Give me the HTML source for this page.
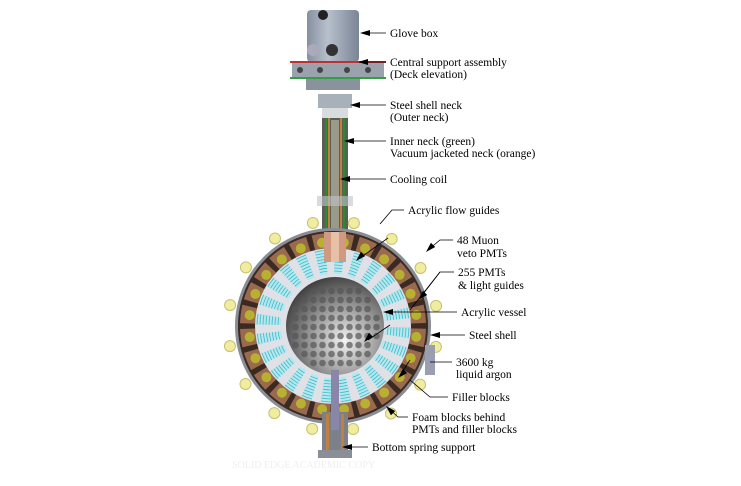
<!DOCTYPE html>
<html><head><meta charset="utf-8"><style>
html,body{margin:0;padding:0;background:#fff;}
svg{display:block;font-family:"Liberation Serif",serif;font-size:11.5px;}
</style></head><body>
<svg id="s" width="741" height="486" viewBox="0 0 741 486" xmlns="http://www.w3.org/2000/svg">
<defs>
<radialGradient id="sph" cx="0.6" cy="0.65" r="0.7"><stop offset="0" stop-color="#f4f4f4"/><stop offset="0.5" stop-color="#9a9a9a"/><stop offset="1" stop-color="#3a3a3a"/></radialGradient>
<linearGradient id="gb" x1="0" x2="1"><stop offset="0" stop-color="#8590a0"/><stop offset="0.4" stop-color="#b8c0cc"/><stop offset="1" stop-color="#7a8494"/></linearGradient>
</defs>
<rect x="307" y="10" width="52" height="52" rx="4" fill="url(#gb)"/>
<circle cx="323" cy="15" r="5" fill="#222"/>
<circle cx="332" cy="50" r="6" fill="#333"/>
<circle cx="313" cy="50" r="6" fill="#aab"/>
<rect x="292" y="62" width="92" height="16" fill="#9aa2ae"/>
<line x1="290" y1="62" x2="386" y2="62" stroke="#c03030" stroke-width="2"/>
<line x1="290" y1="78" x2="386" y2="78" stroke="#30a040" stroke-width="2"/>
<circle cx="300" cy="70" r="3" fill="#444"/><circle cx="320" cy="70" r="3" fill="#444"/><circle cx="347" cy="70" r="3" fill="#444"/><circle cx="368" cy="70" r="3" fill="#444"/>
<rect x="306" y="79" width="54" height="11" fill="#8a929e"/>
<rect x="318" y="94" width="34" height="14" fill="#a8b0ba"/>
<rect x="322" y="108" width="26" height="12" fill="#d8dcdf"/>
<rect x="322" y="118" width="26" height="135" fill="#5a5e55"/>
<rect x="325" y="118" width="2" height="135" fill="#2a8a30"/>
<rect x="343" y="118" width="2" height="135" fill="#2a8a30"/>
<rect x="328" y="118" width="2" height="135" fill="#c08040"/>
<rect x="340" y="118" width="2" height="135" fill="#c08040"/>
<rect x="331" y="120" width="8" height="130" fill="#9a9a8a"/>
<rect x="317" y="196" width="36" height="10" fill="#c0c4c8" opacity="0.6"/>
<g id="det"></g>
<rect x="322" y="412" width="26" height="40" fill="#7c808a"/>
<rect x="326" y="414" width="3" height="36" fill="#c08040"/><rect x="341" y="414" width="3" height="36" fill="#c08040"/>
<rect x="331" y="370" width="8" height="60" fill="#8a86a8"/>
<rect x="318" y="450" width="34" height="8" fill="#8a8e98"/>
<rect x="425" y="345" width="10" height="30" fill="#9a9eb0"/>
<g id="lab" stroke="#000" stroke-width="0.8" fill="none"></g>
<g fill="#000">
<text x="390" y="37">Glove box</text>
<text x="390" y="66">Central support assembly</text>
<text x="390" y="78">(Deck elevation)</text>
<text x="390" y="109">Steel shell neck</text>
<text x="390" y="121">(Outer neck)</text>
<text x="390" y="145">Inner neck (green)</text>
<text x="390" y="157">Vacuum jacketed neck (orange)</text>
<text x="390" y="183">Cooling coil</text>
<text x="408" y="214">Acrylic flow guides</text>
<text x="457" y="244">48 Muon</text>
<text x="457" y="257">veto PMTs</text>
<text x="458" y="276">255 PMTs</text>
<text x="458" y="289">&amp; light guides</text>
<text x="461" y="316">Acrylic vessel</text>
<text x="469" y="339">Steel shell</text>
<text x="456" y="366">3600 kg</text>
<text x="456" y="378">liquid argon</text>
<text x="452" y="401">Filler blocks</text>
<text x="412" y="421">Foam blocks behind</text>
<text x="412" y="433">PMTs and filler blocks</text>
<text x="372" y="451">Bottom spring support</text>
</g>
<text x="232" y="468" fill="#eee" font-size="10">SOLID EDGE ACADEMIC COPY</text>
</svg>
<script>
var NS="http://www.w3.org/2000/svg",d=document.getElementById('det'),cx=333,cy=326;
function el(t,a,p){var e=document.createElementNS(NS,t);for(var k in a)e.setAttribute(k,a[k]);(p||d).appendChild(e);return e;}
function wedge(r1,r2,a1,a2,f){var c=Math.cos,s=Math.sin;
el('path',{d:'M'+(cx+r1*c(a1))+','+(cy+r1*s(a1))+'L'+(cx+r2*c(a1))+','+(cy+r2*s(a1))+'A'+r2+','+r2+' 0 0 1 '+(cx+r2*c(a2))+','+(cy+r2*s(a2))+'L'+(cx+r1*c(a2))+','+(cy+r1*s(a2))+'A'+r1+','+r1+' 0 0 0 '+(cx+r1*c(a1))+','+(cy+r1*s(a1))+'Z',fill:f});}
for(var i=0;i<16;i++){var a=i*Math.PI*2/16+0.2;el('circle',{cx:cx+105*Math.cos(a),cy:cy+105*Math.sin(a),r:5.5,fill:'#f0eca0',stroke:'#c8c070','stroke-width':1});}
el('circle',{cx:cx,cy:cy,r:98,fill:'#8a8e94'});
el('circle',{cx:cx,cy:cy,r:95,fill:'#3a2a22'});
var N=24;
for(var i=0;i<N;i++){var a=i*2*Math.PI/N;wedge(78,93,a+0.03,a+0.23,'#9a6a4e');
el('circle',{cx:cx+84*Math.cos(a+0.13),cy:cy+84*Math.sin(a+0.13),r:5,fill:'#b8b030'});}
el('circle',{cx:cx,cy:cy,r:78,fill:'#dfe1e6'});
for(var i=0;i<N;i++){var a=i*2*Math.PI/N;wedge(52,77,a+0.02,a+0.16,'#b4e8ee');
for(var r=55;r<77;r+=3)el('path',{d:'M'+(cx+r*Math.cos(a+0.02))+','+(cy+r*Math.sin(a+0.02))+'A'+r+','+r+' 0 0 1 '+(cx+r*Math.cos(a+0.16))+','+(cy+r*Math.sin(a+0.16)),stroke:'#40b8c8','stroke-width':0.8,fill:'none'});}
el('circle',{cx:cx+2,cy:cy,r:49,fill:'url(#sph)'});
for(var y=-44;y<=44;y+=9)for(var x=-44;x<=44;x+=9){var xx=x+((y/9)%2?4.5:0);if(xx*xx+y*y<44*44)el('circle',{cx:cx+2+xx,cy:cy+y,r:3.3,fill:'#555',opacity:0.7});}
el('rect',{x:324,y:232,width:22,height:30,fill:'#d09a80'});
el('rect',{x:331,y:232,width:8,height:30,fill:'#e8c0a8'});
var L=document.getElementById('lab');
function ln(p){el('polyline',{points:p},L);}
function ar(x,y,dx,dy){var l=Math.hypot(dx,dy),ux=dx/l,uy=dy/l;el('polygon',{points:x+','+y+' '+(x-10*ux-3*uy)+','+(y-10*uy+3*ux)+' '+(x-10*ux+3*uy)+','+(y-10*uy-3*ux),fill:'#000',stroke:'none'},L);}
ln('386,33 362,33');ar(360,33,-1,0);
ln('386,62 362,62');ar(358,62,-1,0);
ln('386,105 352,105');ar(350,105,-1,0);
ln('386,141 348,141');ar(344,141,-1,0);
ln('386,179 344,179');ar(340,179,-1,0);
ln('404,210 392,210 380,224');
ln('453,240 440,240 428,250');ar(426,252,-1,1);
ln('454,272 440,272 420,298');ar(418,300,-1,1);ln('440,272 410,310');
ln('457,312 385,312');ar(383,312,-1,0);
ln('465,335 432,335');ar(430,335,-1,0);
ln('452,362 430,362');
ln('448,397 430,397 410,380');
ln('408,417 398,417 388,408');ar(386,406,-1,-1);
ln('368,447 344,447');ar(342,447,-1,0);
ln('388,238 360,258');ar(356,261,-1,1);
ln('390,325 368,340');ar(364,342,-1,1);
ln('410,360 400,375');ar(398,378,-1,1);
</script>
</body></html>
